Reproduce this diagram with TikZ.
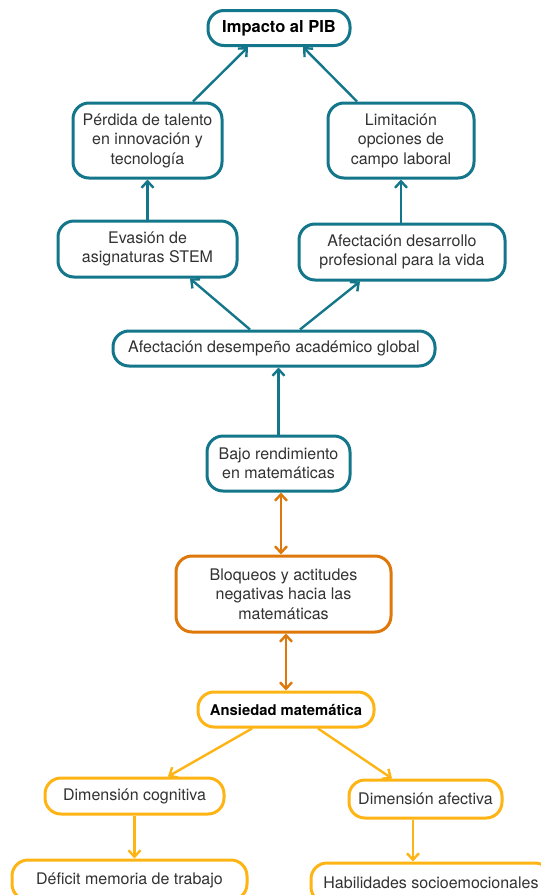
\documentclass[tikz,border=0pt]{standalone}
\usepackage{fontspec}
\setmainfont{TeX Gyre Heros}
\usetikzlibrary{arrows.meta}
\definecolor{teal}{RGB}{20,118,138}
\definecolor{orng}{RGB}{222,120,10}
\definecolor{gold}{RGB}{253,180,20}
\definecolor{txt}{RGB}{50,50,50}
\begin{document}
\begin{tikzpicture}[x=1pt,y=-1pt,
  box/.style={draw, line width=3pt, rounded corners=16pt, align=center,
    text=txt, font=\fontsize{16}{19.5}\selectfont, inner sep=0pt, fill=white},
  tbox/.style={box, draw=teal},
  obox/.style={box, draw=orng},
  ybox/.style={box, draw=gold},
  bold/.style={font=\bfseries\fontsize{16.5}{19.5}\selectfont, text=black},
  link/.style={line width=2.4pt, -{Straight Barb[length=6.5pt,width=12pt,line width=2.4pt]}},
  tlink/.style={link, draw=teal},
  olink/.style={link, draw=orng, {Straight Barb[length=6.5pt,width=12pt,line width=2.4pt]}-{Straight Barb[length=6.5pt,width=12pt,line width=2.4pt]}},
  ylink/.style={link, draw=gold}]
\useasboundingbox (0,0) rectangle (541,895);

% upper chain
\node[tbox, bold, minimum width=142pt, minimum height=35pt] (pib) at (279,28) {Impacto al PIB};
\node[tbox, minimum width=149pt, minimum height=75pt] (talento) at (147.5,140.5) {Pérdida de talento\\en innovación y\\tecnología};
\node[tbox, minimum width=146pt, minimum height=75pt] (campo) at (401,140.5) {Limitación\\opciones de\\campo laboral};
\node[tbox, minimum width=179pt, minimum height=56pt] (stem) at (147.5,249) {Evasión de\\asignaturas STEM};
\node[tbox, minimum width=206pt, minimum height=56pt] (prof) at (402,252) {Afectación desarrollo\\profesional para la vida};
\node[tbox, minimum width=322pt, minimum height=35pt] (global) at (274,348.5) {Afectación desempeño académico global};
\node[tbox, minimum width=143pt, minimum height=55pt] (bajo) at (278.5,463.5) {Bajo rendimiento\\en matemáticas};

% middle
\node[obox, minimum width=215pt, minimum height=76pt] (bloq) at (283.5,594) {Bloqueos y actitudes\\negativas hacia las\\matemáticas};
\node[ybox, bold, font=\bfseries\fontsize{14.8}{18}\selectfont, minimum width=176pt, minimum height=35pt] (ans) at (286,709.5) {Ansiedad matemática};

% lower branches
\node[ybox, minimum width=179pt, minimum height=36pt] (cog) at (134.5,796) {Dimensión cognitiva};
\node[ybox, minimum width=153pt, minimum height=38pt] (afe) at (425.5,799) {Dimensión afectiva};
\node[ybox, minimum width=235pt, minimum height=40pt] (mem) at (129.5,880) {Déficit memoria de trabajo};
\node[ybox, minimum width=240pt, minimum height=40pt] (socio) at (431,883) {Habilidades socioemocionales};

% connectors
\draw[tlink] (talento.north -| 193,0) -- (pib.south -| 248,0);
\draw[tlink] (campo.north -| 357,0) -- (pib.south -| 303,0);
\draw[tlink] (stem) -- (talento);
\draw[tlink] (prof.north -| campo) -- (campo);
\draw[tlink] (global.north -| 250,0) -- (stem.south -| 190,0);
\draw[tlink] (global.north -| 300,0) -- (prof.south -| 360,0);
\draw[tlink] (bajo) -- (global.south -| bajo);
\draw[olink] (bajo.south -| 281,0) -- (bloq.north -| 281,0);
\draw[olink] (bloq.south -| 286,0) -- (ans);
\draw[ylink] (ans.south -| 252,0) -- (cog.north -| 168,0);
\draw[ylink] (ans.south -| 318,0) -- (afe.north -| 392,0);
\draw[ylink] (cog) -- (mem.north -| cog);
\draw[ylink] (afe.south -| 413,0) -- (socio.north -| 413,0);
\end{tikzpicture}
\end{document}
